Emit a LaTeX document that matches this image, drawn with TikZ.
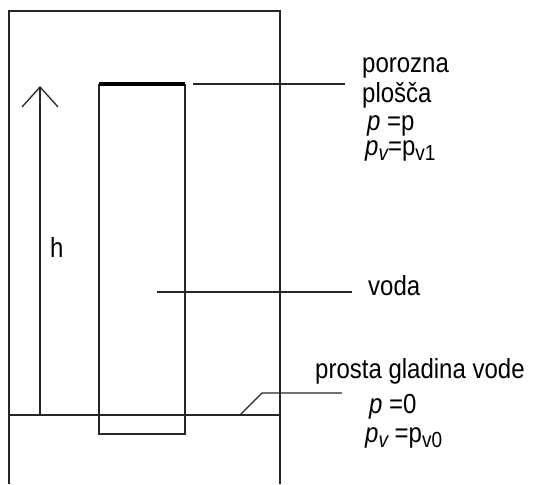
\documentclass[tikz,border=0pt]{standalone}
\usepackage{fontspec}
\setmainfont{Liberation Sans}
\newcommand{\sbs}[1]{\raisebox{-5pt}{\fontsize{19}{19}\selectfont #1}}
\newcommand{\tall}[1]{\scalebox{1}[1.15]{#1}}
\begin{document}
\begin{tikzpicture}[x=1pt,y=-1pt,
  ln/.style={line width=1.3pt,draw=black!85},
  lbl/.style={anchor=base west,inner sep=0pt,font=\fontsize{24}{28}\selectfont}]
\useasboundingbox (0,0) rectangle (534,484);
% outer vessel
\coordinate (ob1) at (9,484);
\coordinate (ot1) at (9,11);
\coordinate (ot2) at (280,11);
\coordinate (ob2) at (280,484);
\draw[ln] (ob1) -- (ot1) -- (ot2) -- (ob2);
% water surface
\coordinate (ws1) at (9,415);
\coordinate (ws2) at (280,415);
\draw[ln] (ws1) -- (ws2);
% tube
\coordinate (tl) at (99,84);
\coordinate (tr) at (185,84);
\coordinate (bl) at (99,434);
\coordinate (br) at (185,434);
\draw[ln] (tl) -- (bl) -- (br) -- (tr);
\draw[line width=3.5pt,black] (tl) -- (tr);
% height arrow
\coordinate (hb) at (40,415);
\coordinate (ht) at (40,87);
\coordinate (ha1) at (22,107);
\coordinate (ha2) at (58,107);
\draw[ln] (hb) -- (ht);
\draw[ln] (ha1) -- (ht) -- (ha2);
\node[lbl] (h) at (50,257) {\tall{h}};
% leaders
\coordinate (l1a) at (193,84);
\coordinate (l1b) at (345,84);
\draw[ln] (l1a) -- (l1b);
\coordinate (l2a) at (157,292);
\coordinate (l2b) at (352,292);
\draw[ln] (l2a) -- (l2b);
\coordinate (l3a) at (240,415);
\coordinate (l3b) at (262,393);
\coordinate (l3c) at (342,393);
\draw[ln] (l3a) -- (l3b) -- (l3c);
% labels
\node[lbl] (t1) at (362,73) {\tall{porozna}};
\node[lbl] (t2) at (362,102) {\tall{plošča}};
\node[lbl] (t3) at (367,130) {\tall{\itshape p\upshape\ =p}};
\node[lbl] (t4) at (365,155) {\tall{\itshape p\sbs{v}\upshape=p\sbs{v1}}};
\node[lbl] (t5) at (368,295) {\tall{voda}};
\node[lbl] (t6) at (315,378) {\tall{prosta gladina vode}};
\node[lbl] (t7) at (369,413) {\tall{\itshape p\upshape\ =0}};
\node[lbl] (t8) at (365,442) {\tall{\itshape p\sbs{v}\upshape\ =p\sbs{v0}}};
\end{tikzpicture}
\end{document}
